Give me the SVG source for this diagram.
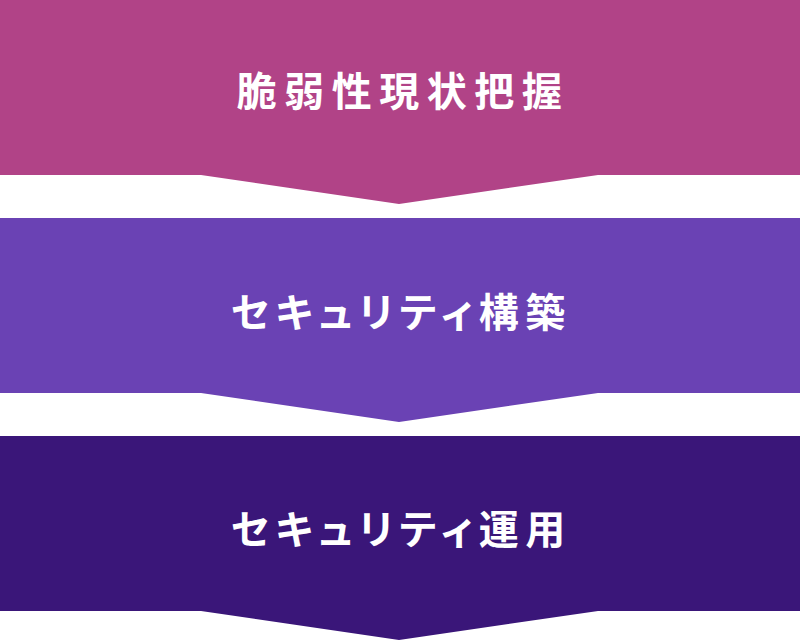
<svg xmlns="http://www.w3.org/2000/svg" width="800" height="640" viewBox="0 0 800 640">
<style>
.lbl{font-family:"Noto Sans CJK JP","Noto Sans",sans-serif;font-weight:bold;font-size:40px;fill:#ffffff;text-anchor:middle;letter-spacing:7.5px}
.kana{font-feature-settings:"palt" 1;letter-spacing:6.3px}
</style>
<rect width="800" height="640" fill="#ffffff"/>
<g id="step1">
<polygon points="0,0 800,0 800,175 598,175 399,204 201,175 0,175" fill="#B14387"/>
<text class="lbl" x="403" y="106">脆弱性現状把握</text>
</g>
<g id="step2">
<polygon points="0,218 800,218 800,393 598,393 399,422 201,393 0,393" fill="#6A42B4"/>
<text class="lbl kana" x="401" y="327">セキュリティ構築</text>
</g>
<g id="step3">
<polygon points="0,436 800,436 800,611 598,611 399,640 201,611 0,611" fill="#3A1679"/>
<text class="lbl kana" x="401" y="544">セキュリティ運用</text>
</g>
<g id="connectors"></g>
</svg>
